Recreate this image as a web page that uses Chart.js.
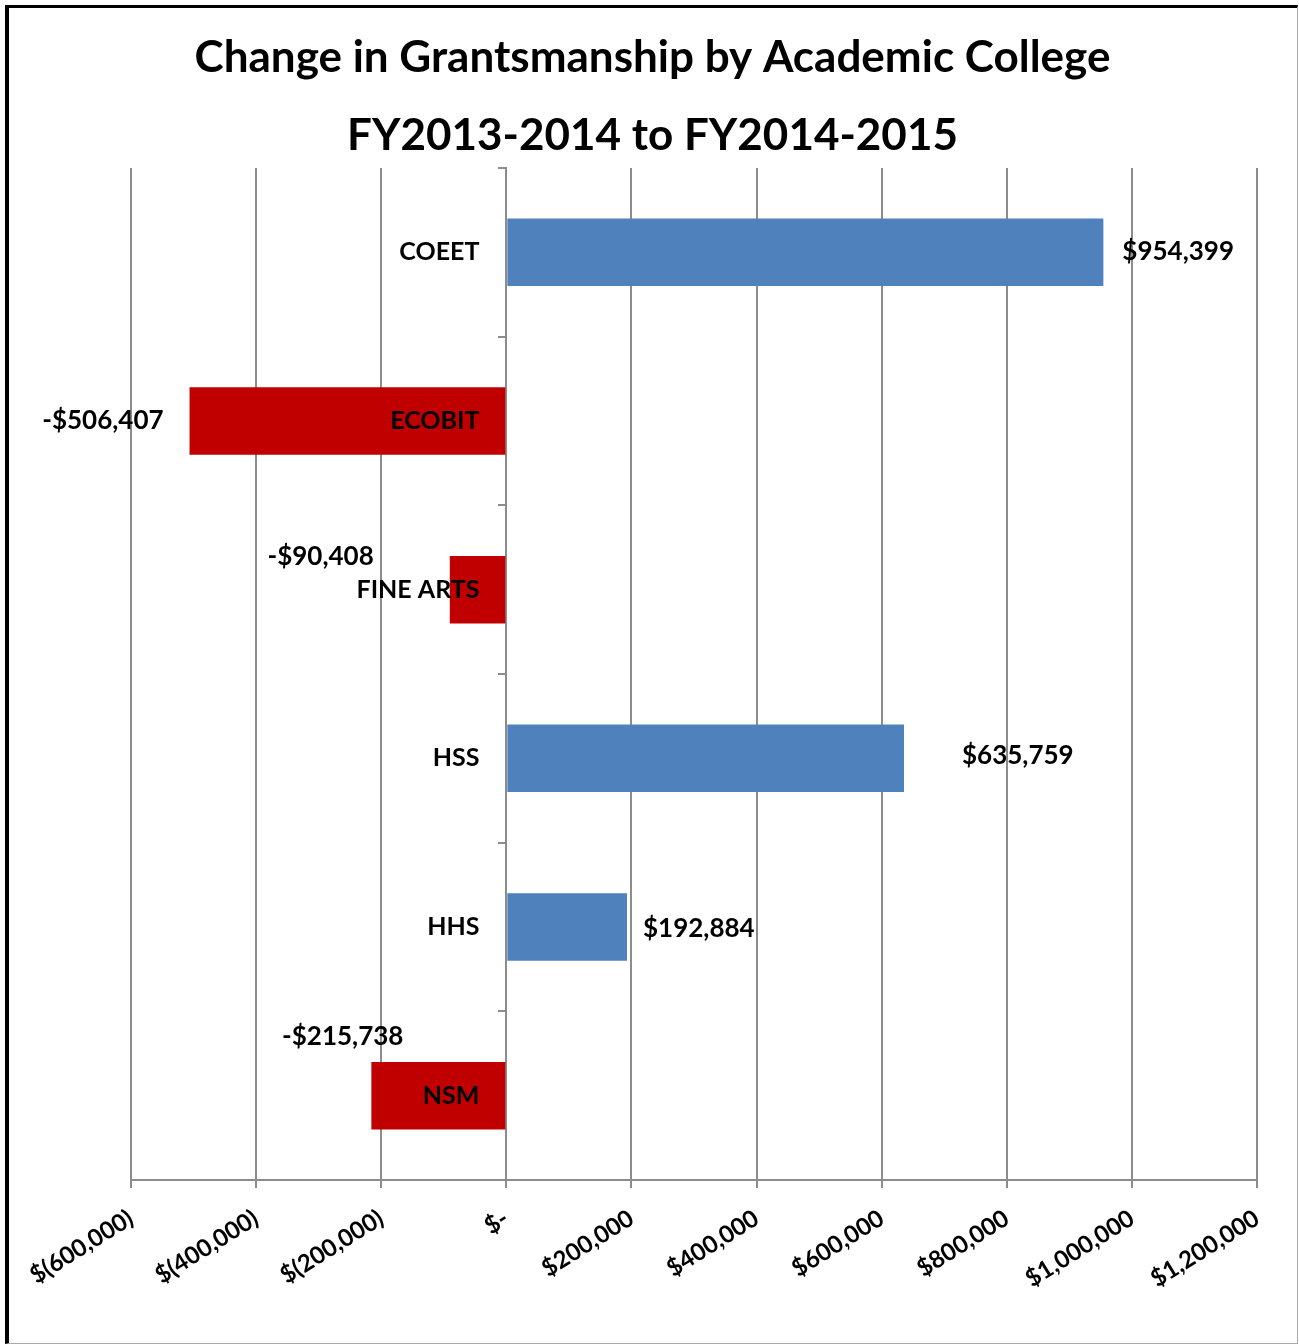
<!DOCTYPE html>
<html>
<head>
<meta charset="utf-8">
<script src="https://cdn.jsdelivr.net/npm/chart.js@4"></script>
<style>
  html, body { margin: 0; padding: 0; background: #fff; }
  #frame {
    position: absolute; left: 5px; top: 5px;
    width: 1288px; height: 1335px;
    border-left: 4px solid #000; border-top: 3px solid #000;
    border-right: 1px solid #aaa; border-bottom: 1px solid #aaa;
  }
  #grantChart { position: absolute; left: 0; top: 0; }
</style>
</head>
<body>
<div id="frame"></div>
<canvas id="grantChart" width="1299" height="1344"></canvas>
<script>
// 資料
const colleges = ['COEET', 'ECOBIT', 'FINE ARTS', 'HSS', 'HHS', 'NSM'];
const changeValues = [954399, -506407, -90408, 635759, 192884, -215738];
const axisTicks = [-600000, -400000, -200000, 0, 200000, 400000, 600000, 800000, 1000000, 1200000];

const FONT = 'Lato, "Open Sans", sans-serif';

function money(v) {
    const s = Math.abs(v).toLocaleString('en-US');
    return v < 0 ? '-$' + s : '$' + s;
}

function axisMoney(v) {
    if (v === 0) return '$-';
    const s = Math.abs(v).toLocaleString('en-US');
    return v < 0 ? '$(' + s + ')' : '$' + s;
}

// 數值標籤位置（相對於長條末端）
const labelOffsets = [
    { dx: 19, dy: -1, align: 'left' },
    { dx: -26, dy: 0, align: 'right' },
    { dx: -76, dy: -33, align: 'right' },
    { dx: 58, dy: -3, align: 'left' },
    { dx: 16, dy: 2, align: 'left' },
    { dx: 32, dy: -59, align: 'right' }
];

const valueLabels = {
    id: 'valueLabels',
    afterDraw(chart) {
        const c = chart.ctx;
        const meta = chart.getDatasetMeta(0);
        c.save();
        c.font = 'bold 26px ' + FONT;
        c.fillStyle = '#000';
        c.textBaseline = 'middle';
        meta.data.forEach(function(bar, i) {
            const o = labelOffsets[i];
            c.textAlign = o.align;
            c.fillText(money(changeValues[i]), bar.x + o.dx, bar.y + o.dy);
        });
        c.restore();
    }
};

const ctx = document.getElementById('grantChart').getContext('2d');
const grantChart = new Chart(ctx, {
    type: 'bar',
    data: {
        labels: colleges,
        datasets: [{
            data: changeValues,
            backgroundColor: changeValues.map(v => v < 0 ? '#C00000' : '#4F81BD'),
            barPercentage: 0.4,
            categoryPercentage: 1
        }]
    },
    options: {
        indexAxis: 'y',
        responsive: false,
        animation: false,
        layout: { padding: { left: 8, right: 2, top: 0, bottom: 0 } },
        scales: {
            x: {
                min: -600000,
                max: 1200000,
                afterBuildTicks(scale) {
                    scale.ticks = axisTicks.map(v => ({ value: v }));
                },
                afterFit(scale) {
                    scale.paddingLeft = 131;
                    scale.paddingRight = 42;
                    scale.height = 164;
                },
                grid: { color: '#8c8c8c', lineWidth: 2, tickLength: 8 },
                border: { color: '#8c8c8c', width: 2 },
                ticks: {
                    minRotation: 32,
                    maxRotation: 32,
                    padding: 16,
                    color: '#000',
                    font: { family: FONT, size: 24, weight: 'bold' },
                    callback: v => axisMoney(v)
                }
            },
            // 零值處的軸線與刻度
            y: {
                position: { x: 0 },
                grid: { drawOnChartArea: false, offset: true, color: '#8c8c8c', lineWidth: 2, tickLength: 7 },
                border: { color: '#8c8c8c', width: 2 },
                ticks: { display: false }
            },
            // 學院名稱（畫在長條上方）
            yLabels: {
                type: 'category',
                axis: 'y',
                offset: true,
                position: { x: -43000 },
                grid: { display: false },
                border: { display: false },
                ticks: {
                    z: 1,
                    color: '#000',
                    font: { family: FONT, size: 25, weight: 'bold' }
                }
            }
        },
        plugins: {
            legend: { display: false },
            tooltip: { enabled: false },
            title: {
                display: true,
                text: ['Change in Grantsmanship by Academic College', 'FY2013-2014 to FY2014-2015'],
                color: '#000',
                font: { family: FONT, size: 44, weight: 'bold', lineHeight: '78px' },
                padding: { top: 19, bottom: -7 }
            }
        }
    },
    plugins: [valueLabels]
});
</script>
</body>
</html>
